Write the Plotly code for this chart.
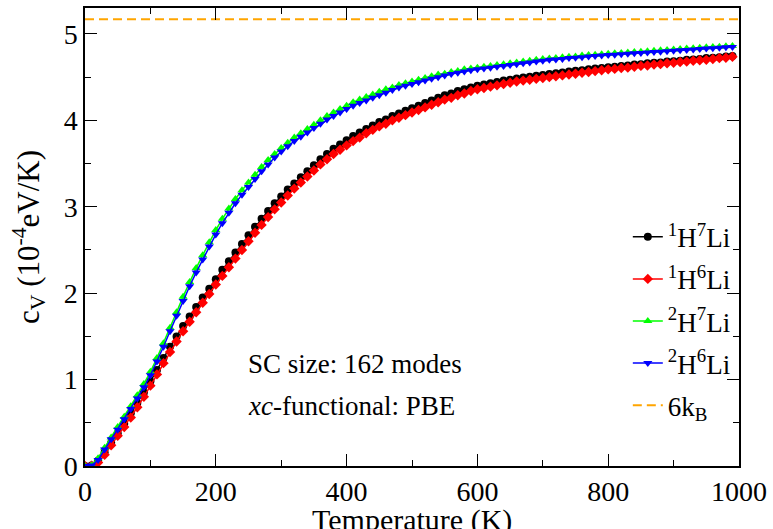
import plotly.graph_objects as go

temperature = list(range(0, 1000, 10))

cv_1h7li = [0.00, 0.005, 0.06, 0.16, 0.27, 0.38, 0.49, 0.61, 0.73, 0.85,
            0.98, 1.11, 1.25, 1.38, 1.50, 1.62, 1.73, 1.84, 1.95, 2.05,
            2.16, 2.27, 2.37, 2.47, 2.57, 2.67, 2.77, 2.86, 2.95, 3.04,
            3.12, 3.20, 3.27, 3.34, 3.41, 3.48, 3.55, 3.61, 3.67, 3.72,
            3.77, 3.82, 3.86, 3.90, 3.94, 3.98, 4.01, 4.05, 4.08, 4.11,
            4.14, 4.17, 4.20, 4.23, 4.26, 4.29, 4.31, 4.34, 4.36, 4.38,
            4.40, 4.415, 4.43, 4.445, 4.46, 4.47, 4.485, 4.495, 4.505, 4.515,
            4.525, 4.535, 4.545, 4.555, 4.565, 4.575, 4.58, 4.59, 4.60, 4.605,
            4.615, 4.62, 4.63, 4.635, 4.645, 4.65, 4.66, 4.665, 4.67, 4.68,
            4.685, 4.69, 4.70, 4.705, 4.71, 4.72, 4.725, 4.73, 4.74, 4.745]

cv_1h6li = [0.00, 0.003, 0.04, 0.13, 0.24, 0.35, 0.45, 0.56, 0.68, 0.80,
            0.93, 1.06, 1.19, 1.32, 1.44, 1.56, 1.67, 1.78, 1.89, 1.99,
            2.10, 2.20, 2.30, 2.40, 2.50, 2.60, 2.70, 2.79, 2.88, 2.97,
            3.05, 3.13, 3.21, 3.28, 3.35, 3.42, 3.49, 3.55, 3.61, 3.66,
            3.71, 3.76, 3.80, 3.85, 3.89, 3.93, 3.96, 4.00, 4.03, 4.06,
            4.09, 4.12, 4.15, 4.18, 4.21, 4.24, 4.26, 4.29, 4.31, 4.34,
            4.36, 4.375, 4.39, 4.405, 4.42, 4.435, 4.45, 4.46, 4.47, 4.48,
            4.49, 4.50, 4.51, 4.52, 4.53, 4.54, 4.55, 4.56, 4.57, 4.58,
            4.59, 4.595, 4.605, 4.61, 4.62, 4.63, 4.635, 4.645, 4.65, 4.66,
            4.665, 4.675, 4.68, 4.69, 4.695, 4.70, 4.71, 4.72, 4.725, 4.735]

cv_2h7li = [0.00, 0.01, 0.09, 0.21, 0.33, 0.45, 0.57, 0.69, 0.82, 0.95,
            1.09, 1.25, 1.42, 1.60, 1.78, 1.96, 2.13, 2.29, 2.44, 2.59,
            2.73, 2.86, 2.98, 3.09, 3.19, 3.28, 3.37, 3.46, 3.54, 3.61,
            3.68, 3.74, 3.80, 3.85, 3.90, 3.95, 4.00, 4.05, 4.09, 4.13,
            4.17, 4.21, 4.24, 4.27, 4.30, 4.33, 4.36, 4.38, 4.41, 4.43,
            4.45, 4.47, 4.49, 4.51, 4.53, 4.54, 4.56, 4.57, 4.59, 4.60,
            4.61, 4.62, 4.63, 4.64, 4.65, 4.66, 4.67, 4.68, 4.69, 4.70,
            4.71, 4.715, 4.72, 4.73, 4.735, 4.74, 4.75, 4.755, 4.76, 4.765,
            4.77, 4.775, 4.78, 4.785, 4.79, 4.795, 4.80, 4.805, 4.81, 4.815,
            4.82, 4.825, 4.83, 4.835, 4.84, 4.845, 4.85, 4.852, 4.856, 4.86]

cv_2h6li = [0.00, 0.005, 0.07, 0.19, 0.31, 0.42, 0.54, 0.66, 0.78, 0.91,
            1.05, 1.21, 1.38, 1.56, 1.74, 1.91, 2.08, 2.24, 2.39, 2.54,
            2.68, 2.81, 2.93, 3.04, 3.14, 3.23, 3.32, 3.41, 3.49, 3.57,
            3.64, 3.70, 3.76, 3.81, 3.86, 3.91, 3.96, 4.01, 4.05, 4.09,
            4.13, 4.17, 4.20, 4.23, 4.26, 4.29, 4.32, 4.35, 4.38, 4.40,
            4.42, 4.44, 4.46, 4.48, 4.50, 4.52, 4.535, 4.55, 4.565, 4.58,
            4.59, 4.60, 4.61, 4.62, 4.63, 4.64, 4.65, 4.66, 4.67, 4.68,
            4.69, 4.70, 4.705, 4.71, 4.72, 4.725, 4.73, 4.74, 4.745, 4.75,
            4.755, 4.76, 4.765, 4.77, 4.775, 4.78, 4.785, 4.79, 4.795, 4.80,
            4.805, 4.81, 4.815, 4.82, 4.825, 4.83, 4.835, 4.84, 4.845, 4.85]

six_kb_x = [0, 1000]
six_kb_value = 5.17

series_names = ["<sup>1</sup>H<sup>7</sup>Li", "<sup>1</sup>H<sup>6</sup>Li",
                "<sup>2</sup>H<sup>7</sup>Li", "<sup>2</sup>H<sup>6</sup>Li"]
x_ticks = [0, 200, 400, 600, 800, 1000]
y_ticks = [0, 1, 2, 3, 4, 5]

FONT = "Times New Roman, Liberation Serif, serif"

series = [
    (cv_1h7li, "#000000", "circle", 8),
    (cv_1h6li, "#ff0000", "diamond", 8),
    (cv_2h7li, "#00ff00", "triangle-up", 8),
    (cv_2h6li, "#0000ff", "triangle-down", 8),
]

fig = go.Figure()
for i, (vals, col, sym, sz) in enumerate(series):
    fig.add_trace(go.Scatter(
        x=temperature, y=vals, mode="lines+markers", name=series_names[i],
        legendgroup=f"g{i}",
        line=dict(color=col, width=1.5),
        marker=dict(color=col, symbol=sym, size=sz),
    ))

fig.add_trace(go.Scatter(
    x=six_kb_x, y=[six_kb_value] * len(six_kb_x), mode="lines",
    name="6k<sub>B</sub>", legendgroup="g4",
    line=dict(color="#ffa500", width=2, dash="9px,5px"),
))

fig.add_annotation(text="SC size: 162 modes", xref="paper", yref="paper",
                   x=0.246, y=0.222, xanchor="left", yanchor="middle",
                   showarrow=False, font=dict(family=FONT, size=27, color="black"))
fig.add_annotation(text="<i>xc</i>-functional: PBE", xref="paper", yref="paper",
                   x=0.246, y=0.130, xanchor="left", yanchor="middle",
                   showarrow=False, font=dict(family=FONT, size=27, color="black"))
# x-axis title as text below the tick labels
fig.add_annotation(text="Temperature (K)", xref="paper", yref="paper",
                   x=0.5, y=-0.118, xanchor="center", yanchor="middle",
                   showarrow=False, font=dict(family=FONT, size=30, color="black"))

axis_common = dict(
    showline=True, linecolor="black", linewidth=1.5, mirror="allticks",
    ticks="inside", ticklen=12, tickwidth=1.2, tickcolor="black",
    showgrid=False, zeroline=False, automargin=False,
    tickfont=dict(family=FONT, size=28, color="black"),
)

fig.update_xaxes(range=[0, 1000], tickvals=x_ticks,
                 minor=dict(ticks="inside", ticklen=6, tickwidth=1.2, tickcolor="black", dtick=100),
                 **axis_common)
fig.update_yaxes(range=[0, 5.3], tickvals=y_ticks,
                 title=dict(text="c<sub>V</sub> (10<sup>-4</sup>eV/K)", font=dict(family=FONT, size=31, color="black")),
                 minor=dict(ticks="inside", ticklen=6, tickwidth=1.2, tickcolor="black", dtick=0.5),
                 **axis_common)

fig.update_layout(
    width=773, height=529,
    margin=dict(l=85, r=34, t=8, b=63),
    paper_bgcolor="white", plot_bgcolor="white",
    font=dict(family=FONT, color="black"),
    showlegend=True,
    legend=dict(x=0.83, y=0.553, xanchor="left", yanchor="top",
                bgcolor="rgba(0,0,0,0)", tracegroupgap=4,
                font=dict(family=FONT, size=27, color="black")),
)

fig.write_html("out.html")
